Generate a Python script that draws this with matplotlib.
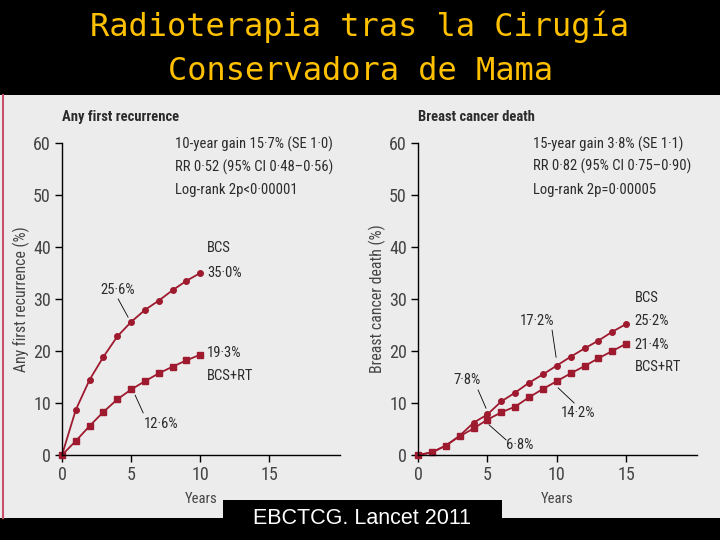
import matplotlib
matplotlib.use("Agg")
import matplotlib.pyplot as plt
from matplotlib import font_manager
from matplotlib.patches import Rectangle
from matplotlib.lines import Line2D

# data
years_rec = [0, 1, 2, 3, 4, 5, 6, 7, 8, 9, 10]
rec_bcs = [0, 8.7, 14.5, 18.9, 22.8, 25.6, 27.9, 29.7, 31.7, 33.5, 35.0]
rec_rt = [0, 2.7, 5.6, 8.3, 10.7, 12.6, 14.2, 15.7, 17.0, 18.2, 19.3]

years_death = [0, 1, 2, 3, 4, 5, 6, 7, 8, 9, 10, 11, 12, 13, 14, 15]
death_bcs = [0, 0.5, 1.8, 3.7, 6.2, 7.8, 10.3, 12.0, 13.9, 15.5, 17.2, 18.9, 20.5, 22.0, 23.7, 25.2]
death_rt = [0, 0.5, 1.8, 3.6, 5.1, 6.8, 8.2, 9.3, 11.1, 12.7, 14.2, 15.7, 17.1, 18.6, 20.0, 21.4]

xticks = [0, 5, 10, 15]
yticks = [0, 10, 20, 30, 40, 50, 60]

RED = "#9e1a2e"
TXT = "#2b2b2b"

# pick a narrow face if there is one
have = {f.name for f in font_manager.fontManager.ttflist}
NARROW, FS = "Roboto", 9.6
for name, fs in (("Liberation Sans Narrow", 11), ("DejaVu Sans Condensed", 10),
                 ("Roboto Condensed", 10.5), ("Open Sans Condensed", 10.5)):
    if name in have:
        NARROW, FS = name, fs
        break

fig = plt.figure(figsize=(7.2, 5.4), dpi=100, facecolor="black")

# light panel behind the two charts
fig.patches.append(Rectangle((0, 22/540), 1, (518-95)/540, transform=fig.transFigure,
                             facecolor="#ececec", edgecolor="none", zorder=-2))
fig.lines.append(Line2D([3/720, 3/720], [22/540, 445/540], transform=fig.transFigure,
                        color="#c8506a", lw=1.5, zorder=-1))

fig.text(0.5, 1 - 27/540, "Radioterapia tras la Cirugía", ha="center", va="center",
         color="#ffc000", fontsize=23, family="DejaVu Sans Mono")
fig.text(0.5, 1 - 72/540, "Conservadora de Mama", ha="center", va="center",
         color="#ffc000", fontsize=23, family="DejaVu Sans Mono")


def setup(ax, title, ylabel):
    ax.set_facecolor("none")
    ax.set_xlim(0, 20.1)
    ax.set_ylim(0, 60)
    ax.set_xticks(xticks)
    ax.set_yticks(yticks)
    for s in ("top", "right"):
        ax.spines[s].set_visible(False)
    for s in ("left", "bottom"):
        ax.spines[s].set_linewidth(1.0)
    ax.tick_params(direction="out", length=5, width=1.0, labelsize=FS + 2.5, colors="black",
                   labelcolor="#444444", pad=3)
    for lab in ax.get_xticklabels() + ax.get_yticklabels():
        lab.set_family(NARROW)
    ax.set_xlabel("Years", fontsize=FS, color="#444444", family=NARROW, labelpad=6)
    ax.set_ylabel(ylabel, fontsize=FS + 0.8, color="#444444", family=NARROW, labelpad=2)
    ax.text(0, 1.06, title, transform=ax.transAxes, fontsize=FS, color=TXT,
            family=NARROW, fontweight="semibold", ha="left", va="bottom")


def note(ax, x, y, s):
    ax.text(x, y, s, fontsize=FS, color=TXT, family=NARROW, va="center", ha="left")


def leader(ax, p0, p1):
    ax.plot([p0[0], p1[0]], [p0[1], p1[1]], color="black", lw=0.6)


ax1 = fig.add_axes([62/720, 85/540, 278/720, 312/540])
setup(ax1, "Any first recurrence", "Any first recurrence (%)")
ax1.plot(years_rec, rec_bcs, color=RED, lw=1.3, marker="o", ms=4, clip_on=False)
ax1.plot(years_rec, rec_rt, color=RED, lw=1.3, marker="s", ms=5, clip_on=False)

note(ax1, 8.2, 59.8, "10-year gain 15·7% (SE 1·0)")
note(ax1, 8.2, 55.4, "RR 0·52 (95% CI 0·48–0·56)")
note(ax1, 8.2, 51.0, "Log-rank 2p<0·00001")
note(ax1, 10.5, 39.8, "BCS")
note(ax1, 10.5, 35.0, "35·0%")
note(ax1, 2.75, 31.7, "25·6%")
note(ax1, 10.5, 19.6, "19·3%")
note(ax1, 10.5, 15.2, "BCS+RT")
note(ax1, 5.9, 6.0, "12·6%")
leader(ax1, (4.06, 30.0), (4.78, 26.5))
leader(ax1, (5.29, 11.5), (5.87, 8.1))

ax2 = fig.add_axes([418/720, 85/540, 279/720, 312/540])
setup(ax2, "Breast cancer death", "Breast cancer death (%)")
ax2.plot(years_death, death_bcs, color=RED, lw=1.3, marker="o", ms=4, clip_on=False)
ax2.plot(years_death, death_rt, color=RED, lw=1.3, marker="s", ms=5, clip_on=False)

note(ax2, 8.3, 59.8, "15-year gain 3·8% (SE 1·1)")
note(ax2, 8.3, 55.6, "RR 0·82 (95% CI 0·75–0·90)")
note(ax2, 8.3, 51.0, "Log-rank 2p=0·00005")
note(ax2, 15.6, 30.2, "BCS")
note(ax2, 15.6, 25.8, "25·2%")
note(ax2, 15.6, 21.2, "21·4%")
note(ax2, 15.6, 16.9, "BCS+RT")
note(ax2, 7.35, 25.8, "17·2%")
note(ax2, 2.52, 14.4, "7·8%")
note(ax2, 6.35, 1.9, "6·8%")
note(ax2, 10.3, 8.1, "14·2%")
leader(ax2, (9.66, 24.0), (9.95, 18.8))
leader(ax2, (4.33, 12.5), (4.9, 9.0))
leader(ax2, (5.12, 5.8), (6.35, 2.9))
leader(ax2, (10.1, 12.9), (11.25, 10.0))

# source box
fig.patches.append(Rectangle((223/720, 0), (502-223)/720, 40/540, transform=fig.transFigure,
                             facecolor="black", edgecolor="none", zorder=5))
fig.text(362/720, 1 - 519/540, "EBCTCG. Lancet 2011", ha="center", va="center",
         color="white", fontsize=15.5, family="Liberation Sans", zorder=6)

fig.savefig("out.png", dpi=100, facecolor=fig.get_facecolor())
